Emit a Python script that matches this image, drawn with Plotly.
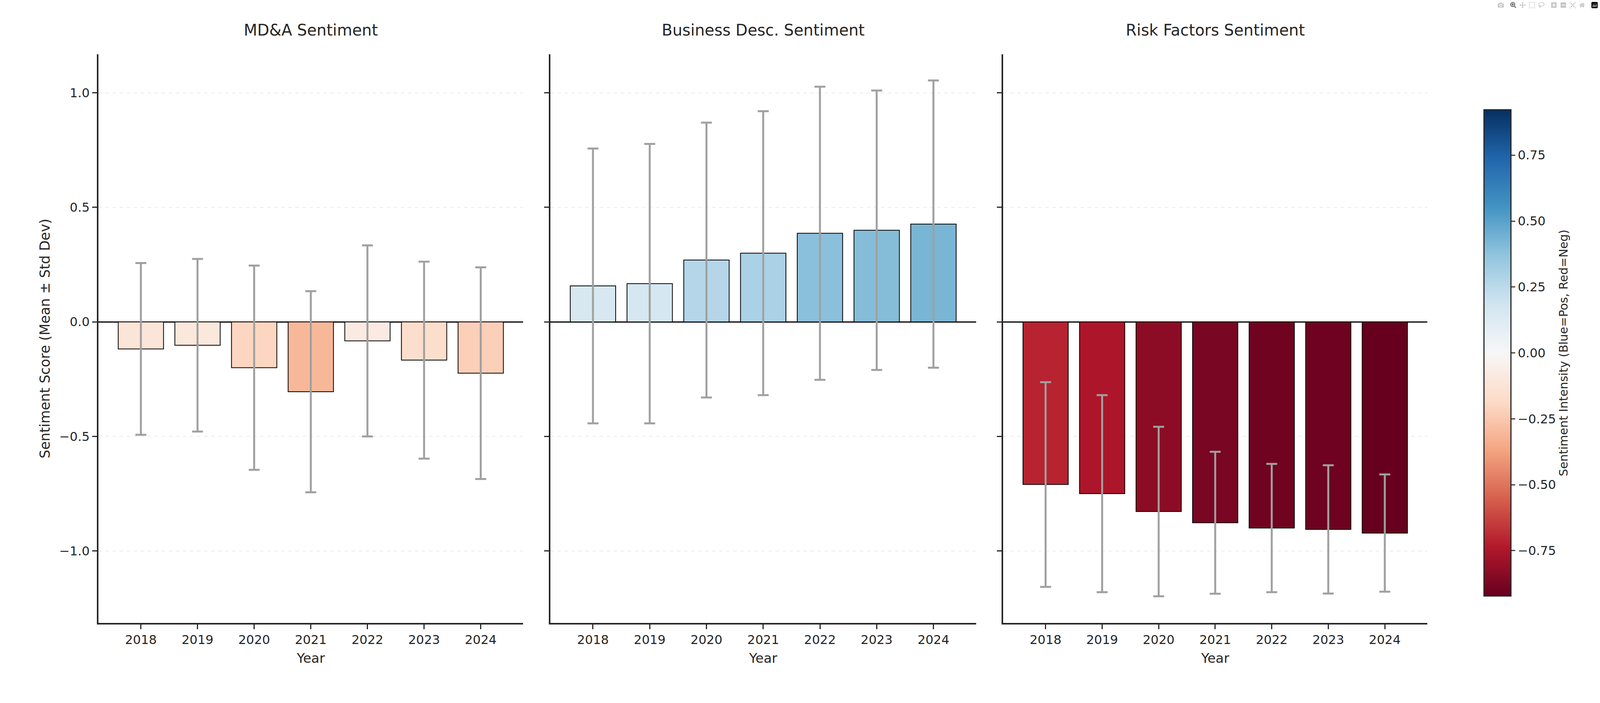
import plotly.graph_objects as go

years = ["2018", "2019", "2020", "2021", "2022", "2023", "2024"]
mda_mean = [-0.118, -0.102, -0.200, -0.305, -0.083, -0.167, -0.224]
mda_std = [0.375, 0.377, 0.446, 0.439, 0.417, 0.430, 0.462]
bus_mean = [0.157, 0.167, 0.270, 0.300, 0.387, 0.400, 0.427]
bus_std = [0.600, 0.610, 0.600, 0.620, 0.640, 0.610, 0.627]
risk_mean = [-0.710, -0.750, -0.828, -0.877, -0.900, -0.906, -0.922]
risk_std = [0.447, 0.430, 0.370, 0.310, 0.280, 0.280, 0.256]
titles = ["MD&A Sentiment", "Business Desc. Sentiment", "Risk Factors Sentiment"]

lim = max(abs(v) for v in mda_mean + bus_mean + risk_mean)
rdbu = ["#67001f", "#b2182b", "#d6604d", "#f4a582", "#fddbc7", "#f7f7f7",
        "#d1e5f0", "#92c5de", "#4393c3", "#2166ac", "#053061"]
cs = [[i / 10, c] for i, c in enumerate(rdbu)]

FONT = "DejaVu Sans"
TXT = "#262626"
fig = go.Figure()
domains = [(0.0615, 0.327), (0.344, 0.610), (0.627, 0.892)]
series = [(mda_mean, mda_std), (bus_mean, bus_std), (risk_mean, risk_std)]
for i, ((m, s), dom) in enumerate(zip(series, domains)):
    ax = "" if i == 0 else str(i + 1)
    fig.add_trace(go.Bar(
        x=years, y=m, xaxis="x" + ax, yaxis="y" + ax, width=0.8,
        marker=dict(color=m, coloraxis="coloraxis", line=dict(color="black", width=2)),
        error_y=dict(type="data", array=s, visible=True, color="#a0a0a0", thickness=5, width=14),
        showlegend=False))
    fig.layout["xaxis" + ax] = dict(
        domain=dom, anchor="y" + ax, showline=True, linecolor=TXT, linewidth=4,
        ticks="outside", ticklen=12, tickwidth=3, tickcolor=TXT,
        tickfont=dict(size=32, color=TXT, family=FONT),
        title=dict(text="Year", font=dict(size=34, color=TXT, family=FONT), standoff=18),
        range=[-0.75, 6.75])
    fig.layout["yaxis" + ax] = dict(
        domain=[0.114, 0.923], anchor="x" + ax, range=[-1.314, 1.169],
        showline=True, linecolor=TXT, linewidth=4, ticks="outside", ticklen=12,
        tickwidth=3, tickcolor=TXT, tickvals=[-1, -0.5, 0, 0.5, 1],
        ticktext=["−1.0", "−0.5", "0.0", "0.5", "1.0"], showticklabels=(i == 0),
        tickfont=dict(size=32, color=TXT, family=FONT),
        showgrid=True, gridcolor="#ebebeb", griddash="dash", gridwidth=2,
        zeroline=True, zerolinecolor="black", zerolinewidth=3)
    fig.add_annotation(text=titles[i], xref="x" + ax + " domain", yref="paper",
                       x=0.5, y=0.957, yanchor="middle", showarrow=False,
                       font=dict(size=40, color=TXT, family=FONT))

fig.layout.yaxis.title = dict(text="Sentiment Score (Mean ± Std Dev)",
                              font=dict(size=35, color=TXT, family=FONT))
fig.update_layout(
    autosize=True, plot_bgcolor="white", paper_bgcolor="white",
    margin=dict(l=0, r=0, t=0, b=0), bargap=0.2,
    coloraxis=dict(colorscale=cs, cmin=-lim, cmax=lim,
                   colorbar=dict(x=0.925, xanchor="left", y=0.498, len=0.703,
                                 thickness=69, outlinecolor=TXT, outlinewidth=3,
                                 tickvals=[-0.75, -0.5, -0.25, 0, 0.25, 0.5, 0.75],
                                 ticktext=["−0.75", "−0.50", "−0.25", "0.00", "0.25", "0.50", "0.75"],
                                 ticks="outside", ticklen=10, tickwidth=3,
                                 tickfont=dict(size=32, color=TXT, family=FONT),
                                 title=dict(text="Sentiment Intensity (Blue=Pos, Red=Neg)", side="right",
                                            font=dict(size=30, color=TXT, family=FONT)))))
fig.write_html("out.html", default_width="100vw", default_height="100vh",
               config={"responsive": True})
with open("out.html") as f:
    html = f.read()
html = html.replace("<head>", "<head><style>html,body{margin:0;padding:0;overflow:hidden;}</style>", 1)
with open("out.html", "w") as f:
    f.write(html)
